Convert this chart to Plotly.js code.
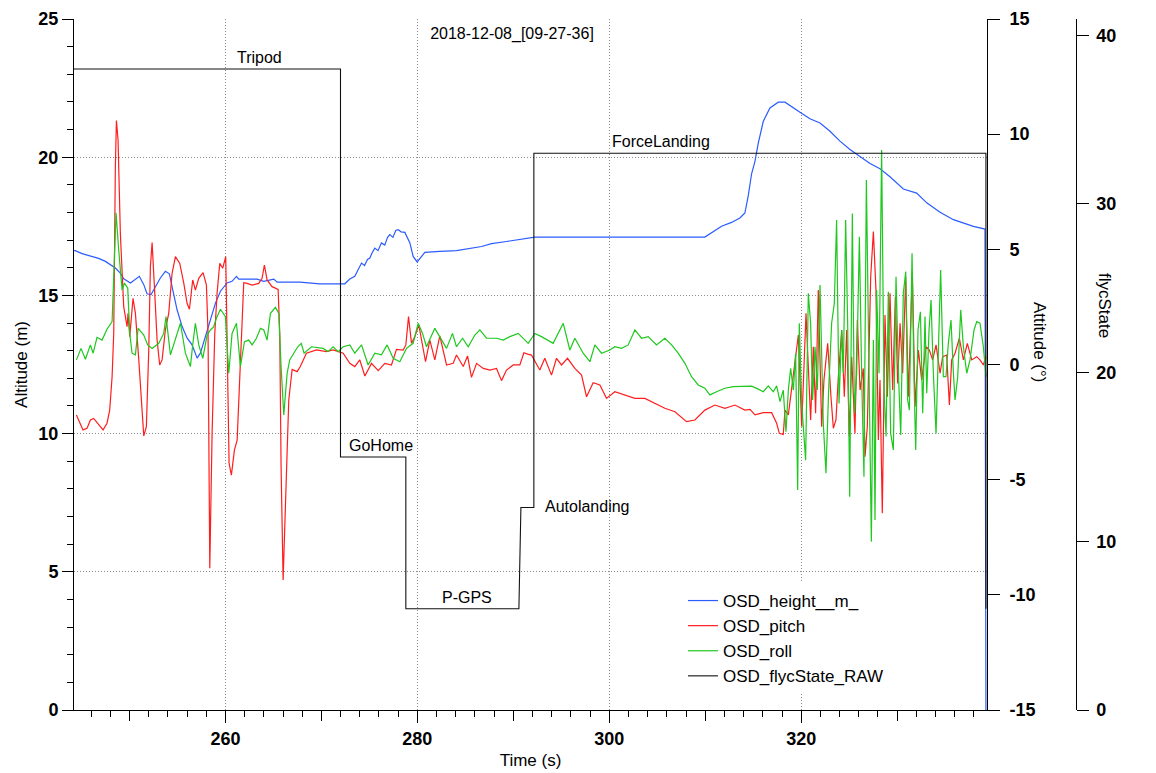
<!DOCTYPE html>
<html><head><meta charset="utf-8">
<script src="https://cdn.plot.ly/plotly-3.0.1.min.js"></script>
<style>html,body{margin:0;padding:0;background:#fff}#chart{width:1156px;height:773px}</style>
</head><body><div id="chart"></div>
<script>
// ---- data ----
const seriesNames = ['OSD_height__m_', 'OSD_pitch', 'OSD_roll', 'OSD_flycState_RAW'];

const heightTime = [244.22,244.36,245.06,245.75,246.79,247.49,248.01,248.53,249.05,249.40,250.10,250.62,251.03,251.49,251.83,252.25,252.70,253.22,253.74,254.16,254.51,254.96,255.48,256.00,256.52,257.05,257.39,257.91,258.44,258.96,259.48,260.17,260.69,261.15,261.39,263.30,263.99,265.04,265.39,267.75,269.83,272.44,272.96,273.48,274.18,274.50,274.80,275.05,275.30,275.57,275.90,276.26,276.60,276.90,277.13,277.45,277.75,278.00,278.30,278.70,279.22,279.56,279.98,280.78,282.34,284.08,286.69,287.73,289.29,291.20,292.24,309.96,310.66,311.70,312.74,313.61,314.13,314.48,314.83,315.18,315.53,316.05,316.74,317.61,318.31,319.00,319.87,320.91,321.96,323.00,324.04,325.08,326.13,327.17,328.21,329.25,330.64,332.03,333.08,334.47,335.86,336.90,337.94,339.15,339.25];
const heightM = [16.62,16.62,16.51,16.44,16.34,16.23,16.10,15.99,15.81,15.60,15.45,15.57,15.69,15.39,15.06,15.03,15.33,15.63,15.87,15.78,15.20,14.48,13.88,13.46,13.21,12.73,12.91,13.52,14.18,14.72,15.15,15.45,15.51,15.69,15.59,15.59,15.51,15.59,15.48,15.48,15.42,15.42,15.59,15.69,16.17,16.08,16.30,16.35,16.55,16.71,16.62,16.90,16.82,17.10,17.20,17.10,17.35,17.38,17.30,17.28,16.90,16.41,16.21,16.56,16.59,16.62,16.77,16.87,16.95,17.04,17.11,17.11,17.28,17.50,17.64,17.80,17.98,18.60,19.40,19.85,20.52,21.30,21.78,21.99,21.99,21.82,21.63,21.39,21.24,20.94,20.58,20.28,20.03,19.77,19.58,19.29,18.85,18.70,18.35,18.01,17.74,17.62,17.50,17.40,0];

const pitchTime = [244.47,244.71,245.16,245.58,245.93,246.27,246.62,247.25,247.66,247.94,248.19,248.36,248.53,248.64,248.81,249.05,249.40,249.75,249.85,250.03,250.37,250.62,250.97,251.24,251.49,251.76,252.01,252.18,252.36,252.60,252.88,253.15,253.40,253.74,254.09,254.44,254.79,255.24,255.66,256.00,256.25,256.59,256.87,257.22,257.67,258.02,258.19,258.37,258.61,258.89,259.13,259.41,259.72,260.03,260.17,260.38,260.62,260.94,261.22,261.56,261.91,262.26,262.78,263.47,263.82,264.06,264.34,264.86,265.49,265.66,265.80,266.01,266.25,266.60,266.95,267.47,267.80,268.10,268.44,269.49,270.53,271.22,272.27,272.96,273.48,274.00,274.53,275.22,275.92,276.61,277.30,277.83,278.52,278.80,279.08,279.39,279.74,280.15,280.54,280.85,281.30,281.82,282.34,283.04,283.73,284.08,284.78,285.23,285.64,286.17,286.86,287.56,288.25,288.77,289.29,289.99,290.68,291.10,291.50,291.89,292.76,293.28,293.98,294.50,295.02,295.65,296.41,297.11,297.63,298.32,299.02,299.71,300.58,301.62,302.67,303.71,304.75,305.79,306.84,308.05,308.92,309.96,311.01,312.05,313.09,314.13,314.66,315.18,316.05,316.92,317.44,317.72,318.13,318.31,318.66,319.18,319.70,320.05,320.50,320.74,320.98,321.26,321.50,321.78,322.13,322.37,322.76,323.10,323.35,323.62,323.87,324.22,324.49,324.74,325.01,325.26,325.60,325.85,326.13,326.47,326.65,326.89,327.24,327.52,327.79,328.04,328.21,328.45,328.73,328.98,329.25,329.53,329.81,330.05,330.30,330.57,330.89,331.16,331.58,331.86,332.21,332.55,333.01,333.35,333.70,334.05,334.47,334.74,335.16,335.44,335.68,336.03,336.48,336.90,337.31,337.77,338.29,338.63,338.98,339.26];
const pitchDeg = [-2.19,-2.41,-2.84,-2.77,-2.41,-2.34,-2.53,-2.84,-2.55,-1.98,-0.53,1.35,8.59,10.59,9.75,5.70,2.51,1.64,2.22,1.21,2.87,2.22,0.20,-1.54,-3.10,-2.70,0.63,4.25,5.29,3.38,1.06,-0.02,0.20,1.50,2.22,3.96,4.68,4.39,3.53,2.66,2.40,3.67,3.23,3.74,3.99,3.45,1.35,-8.85,-2.99,1.35,3.09,4.39,4.18,4.68,1.35,-4.29,-4.80,-3.71,-3.28,-0.09,3.55,3.52,3.45,3.52,3.74,4.32,3.67,3.38,3.26,1.35,-4.44,-9.36,-5.88,-1.54,-0.21,-0.31,-0.09,0.20,0.49,0.63,0.56,0.63,0.49,0.05,-0.09,0.20,-0.50,0.05,-0.27,0.05,-0.02,0.66,0.63,0.85,2.08,0.92,1.21,1.72,0.77,0.12,1.06,0.20,1.24,-0.02,0.05,0.41,-0.09,0.37,-0.56,0.05,-0.17,-0.24,-0.17,-0.70,-0.24,-0.02,-0.02,0.51,0.45,0.41,-0.24,0.27,-0.46,0.27,-0.02,0.27,-0.17,-0.46,-1.40,-0.79,-0.89,-1.47,-1.18,-1.32,-1.47,-1.47,-1.69,-1.90,-2.05,-2.48,-2.41,-1.98,-1.76,-1.90,-1.76,-1.98,-1.95,-2.19,-2.09,-2.09,-2.55,-2.99,-3.04,-1.98,-2.19,-0.38,1.28,-2.70,2.22,-0.09,-2.41,0.77,-2.12,3.23,-2.70,-0.67,0.92,-1.40,-2.77,-2.41,-0.53,1.50,-1.40,1.50,-3.13,0.34,-2.99,1.93,-1.11,-0.17,-4.00,-2.70,3.81,5.77,3.23,-3.28,-0.67,-6.46,2.15,-1.40,3.09,-1.11,2.94,-0.82,1.79,-0.38,3.81,-1.40,3.99,-1.83,0.63,-0.67,0.77,0.63,0.20,0.85,-0.38,0.34,0.41,-1.76,0.20,0.49,1.14,0.20,0.92,0.20,0.34,0.20,-0.02,0.34];

const rollTime = [244.47,244.95,245.41,245.93,246.21,246.62,247.14,247.66,248.19,248.36,248.60,248.88,249.23,249.47,249.82,250.03,250.27,250.62,250.90,251.49,251.90,252.36,253.05,253.57,253.81,254.27,254.72,255.31,255.83,256.35,256.59,256.87,257.22,257.64,258.09,258.44,258.78,259.06,259.48,260.00,260.35,260.69,261.15,261.56,261.98,262.43,262.78,263.23,263.65,264.00,264.34,264.69,265.21,265.56,265.80,266.08,266.43,266.70,267.12,267.54,267.90,268.20,268.97,270.18,270.70,271.22,271.75,272.27,272.96,273.48,274.18,274.87,275.57,276.26,276.85,277.48,278.17,278.87,279.56,280.08,280.54,280.95,281.82,282.52,283.04,283.66,284.08,284.71,285.30,285.99,286.51,287.21,288.25,288.95,289.64,290.51,291.03,291.55,292.24,292.94,294.15,295.20,295.89,296.41,297.28,297.98,298.50,299.19,300.06,300.58,301.28,301.97,302.67,303.36,304.06,304.92,305.79,306.49,307.18,307.88,308.57,309.27,309.96,310.48,311.18,312.05,312.92,313.79,314.83,315.53,316.05,316.57,317.09,317.44,317.79,318.13,318.41,318.66,318.90,319.18,319.42,319.63,319.80,320.05,320.22,320.46,320.74,320.98,321.19,321.44,321.68,321.96,322.30,322.58,322.86,323.17,323.45,323.69,323.94,324.22,324.39,324.63,324.84,325.05,325.33,325.54,325.78,326.06,326.30,326.54,326.79,327.06,327.31,327.52,327.69,327.86,328.11,328.38,328.63,328.84,329.08,329.32,329.60,329.88,330.12,330.37,330.64,330.89,331.09,331.27,331.55,331.75,331.93,332.17,332.42,332.66,332.90,333.08,333.32,333.53,333.77,334.05,334.29,334.53,334.81,335.09,335.33,335.61,335.86,336.03,336.31,336.62,336.90,337.25,337.59,338.01,338.29,338.63,338.98,339.26];
const rollDeg = [0.20,0.70,0.23,0.85,0.49,1.18,1.06,1.53,1.86,4.25,6.59,4.97,3.23,3.53,3.31,1.35,0.49,0.42,1.57,1.28,0.85,0.70,0.92,1.35,2.08,0.42,1.06,1.79,0.49,-0.09,0.85,1.79,0.85,0.27,1.28,1.50,1.64,2.01,2.40,2.08,-0.38,1.35,1.79,-0.09,0.99,1.06,0.85,1.14,1.57,1.50,1.06,2.22,2.48,2.22,-0.09,-2.19,-0.38,0.20,0.49,0.77,0.92,0.49,0.77,0.70,0.56,0.77,0.56,0.77,0.85,0.49,0.85,-0.02,0.49,0.42,0.85,0.27,0.12,0.70,0.92,1.79,1.35,0.77,1.57,1.06,0.70,1.35,0.77,1.14,0.77,1.28,1.50,1.14,1.14,1.06,1.21,1.35,1.14,0.92,1.35,1.21,0.92,1.79,0.63,1.14,0.49,0.12,0.85,0.49,0.63,0.77,0.70,0.85,1.50,1.14,1.21,0.85,1.14,0.85,0.49,0.05,-0.53,-0.89,-1.03,-1.32,-1.18,-1.03,-0.96,-0.94,-0.94,-1.07,-1.18,-0.93,-1.18,-0.93,-1.61,-1.11,-2.92,-1.11,-0.17,-1.11,0.49,-5.45,1.79,-1.69,-2.55,-4.15,3.09,1.79,-1.54,0.77,-1.11,3.45,-2.55,-4.72,-1.11,1.79,2.66,6.27,-1.69,1.50,-0.38,6.27,1.79,-5.74,6.56,-2.12,-0.38,5.55,-0.53,-4.87,8.01,-1.11,-7.69,1.06,-6.75,3.23,-0.38,9.31,-1.11,-3.13,3.16,-2.99,-3.71,3.81,-0.24,-3.06,3.09,4.03,-1.54,-1.98,4.83,-0.53,-3.71,1.50,2.29,-2.12,2.08,-1.25,1.50,2.80,-0.38,-2.99,0.77,4.10,-0.53,-0.53,0.92,1.93,-0.38,-1.54,-0.53,2.37,0.77,-0.38,0.20,1.50,1.86,1.79,0.77,-0.53];

const flycTime  = [244.22,271.99,271.99,278.80,278.80,290.58,290.79,292.14,292.14,339.25,339.25];
const flycState = [38,38,15,15,6,6,12,12,33,33,6];

// flight-mode labels and the time/state they annotate
const modeLabels = ['Tripod','GoHome','P-GPS','ForceLanding'];
const modeLabelTime = [263.58,276.19,285.16,305.35];
const modeLabelState = [38,15,6,33];
const sideLabel = 'Autolanding';
const sideLabelTime = 293.06;
const sideLabelState = 12;

// tick positions / labels
const xMidTicks = [250,270,290,310,330];
const attitudeTickVals = [-15,-10,-5,0,5,10,15];
const attitudeTickText = ['-15','-10','-5','0','5','10','15'];
const chartTitle = '2018-12-08_[09-27-36]';

// ---- layout geometry ----
const W = 1156, H = 773;
const L = 74, T = 19, Bm = 63, Rm = 56;
const pw = W - L - Rm;
const xEnd = (987 - L) / pw;
const y3pos = (1075.7 - L) / pw;
const xRange = [244.22, 339.36];
const FONT = 'Liberation Sans, Arial, Helvetica, sans-serif';
const tickFont = {family: FONT, size: 18, color: '#000', weight: 'bold'};
const titleFont = {family: FONT, size: 17, color: '#000'};
const labFont = {family: FONT, size: 16, color: '#000'};
const GRID = {showgrid: true, gridcolor: '#8c8c8c', griddash: '1px,2px', gridwidth: 1};

const traces = [
  {x: heightTime, y: heightM, name: seriesNames[0], type: 'scatter', mode: 'lines',
   line: {color: '#2a5cff', width: 1.2}, xaxis: 'x', yaxis: 'y'},
  {x: pitchTime, y: pitchDeg, name: seriesNames[1], type: 'scatter', mode: 'lines',
   line: {color: '#ff1e1e', width: 1.2}, xaxis: 'x', yaxis: 'y2'},
  {x: rollTime, y: rollDeg, name: seriesNames[2], type: 'scatter', mode: 'lines',
   line: {color: '#1ec81e', width: 1.2}, xaxis: 'x', yaxis: 'y2'},
  {x: flycTime, y: flycState, name: seriesNames[3], type: 'scatter', mode: 'lines',
   line: {color: '#111', width: 1.1}, xaxis: 'x', yaxis: 'y3'},
  {x: [], y: [], xaxis: 'x2', yaxis: 'y', showlegend: false, hoverinfo: 'skip', type: 'scatter', mode: 'lines'}
];

const annotations = modeLabels.map((t, i) => ({
  text: t, x: modeLabelTime[i], y: modeLabelState[i], xref: 'x', yref: 'y3',
  xanchor: 'center', yanchor: 'bottom', yshift: 1, showarrow: false, font: labFont
}));
annotations.push({text: sideLabel, x: sideLabelTime, y: sideLabelState, xref: 'x', yref: 'y3',
  xanchor: 'left', yanchor: 'middle', yshift: 1, showarrow: false, font: labFont});
annotations.push({text: 'Attitude (°)', x: (1040 - L) / pw, y: (710 - 342) / 691, xref: 'paper', yref: 'paper',
  textangle: 90, showarrow: false, font: titleFont, xanchor: 'center', yanchor: 'middle'});
annotations.push({text: 'flycState', x: (1105 - L) / pw, y: (710 - 305) / 691, xref: 'paper', yref: 'paper',
  textangle: 90, showarrow: false, font: titleFont, xanchor: 'center', yanchor: 'middle'});

const layout = {
  width: W, height: H,
  margin: {l: L, r: Rm, t: T, b: Bm, pad: 0},
  paper_bgcolor: '#fff', plot_bgcolor: '#fff',
  hovermode: false,
  font: {family: FONT, color: '#000'},
  title: {text: chartTitle, font: {family: FONT, size: 16, color: '#000'},
    x: 512 / W, xref: 'container', xanchor: 'center', y: 1 - 33 / H, yref: 'container', yanchor: 'middle'},
  xaxis: Object.assign({domain: [0, xEnd], range: xRange, tick0: 0, dtick: 20, ticks: 'outside', ticklen: 12,
    tickwidth: 1, tickcolor: '#000', showline: true, linecolor: '#000', linewidth: 1, zeroline: false,
    tickfont: tickFont, title: {text: 'Time (s)', font: titleFont, standoff: 6},
    minor: {dtick: 2, tick0: 0, ticks: 'outside', ticklen: 6, tickcolor: '#000', tickwidth: 1, showgrid: false}}, GRID),
  xaxis2: {overlaying: 'x', range: xRange, anchor: 'y', side: 'bottom', tickmode: 'array', tickvals: xMidTicks,
    ticks: 'outside', ticklen: 10, tickcolor: '#000', tickwidth: 1, showticklabels: false,
    showline: false, showgrid: false, zeroline: false},
  yaxis: Object.assign({domain: [0, 1], range: [0, 25], tick0: 0, dtick: 5, ticks: 'outside', ticklen: 11, tickwidth: 1,
    tickcolor: '#000', showline: true, linecolor: '#000', linewidth: 1, zeroline: false,
    tickfont: tickFont, title: {text: 'Altitude (m)', font: titleFont, standoff: 6},
    minor: {dtick: 1, tick0: 0, ticks: 'outside', ticklen: 6, tickcolor: '#000', tickwidth: 1, showgrid: false}}, GRID),
  yaxis2: {overlaying: 'y', side: 'right', anchor: 'x', range: [-15, 15],
    tickmode: 'array', tickvals: attitudeTickVals, ticktext: attitudeTickText,
    ticks: 'outside', ticklen: 12, tickwidth: 1, tickcolor: '#000', showline: true, linecolor: '#000',
    linewidth: 1, showgrid: false, zeroline: false, tickfont: tickFont, ticklabelstandoff: 6},
  yaxis3: {overlaying: 'y', side: 'right', anchor: 'free', position: y3pos, range: [0, 40.96], tick0: 0, dtick: 10,
    ticks: 'outside', ticklen: 12, tickwidth: 1, tickcolor: '#000', showline: true, linecolor: '#000',
    linewidth: 1, showgrid: false, zeroline: false, tickfont: tickFont, ticklabelstandoff: 4},
  legend: {x: (683 - L) / pw, y: (710 - 583) / 691, xanchor: 'left', yanchor: 'top',
    bgcolor: '#fff', borderwidth: 0, font: {family: FONT, size: 17, color: '#000'}, tracegroupgap: 0},
  annotations: annotations,
  showlegend: true
};

Plotly.newPlot('chart', traces, layout, {displayModeBar: false, staticPlot: true});
</script>
</body></html>
